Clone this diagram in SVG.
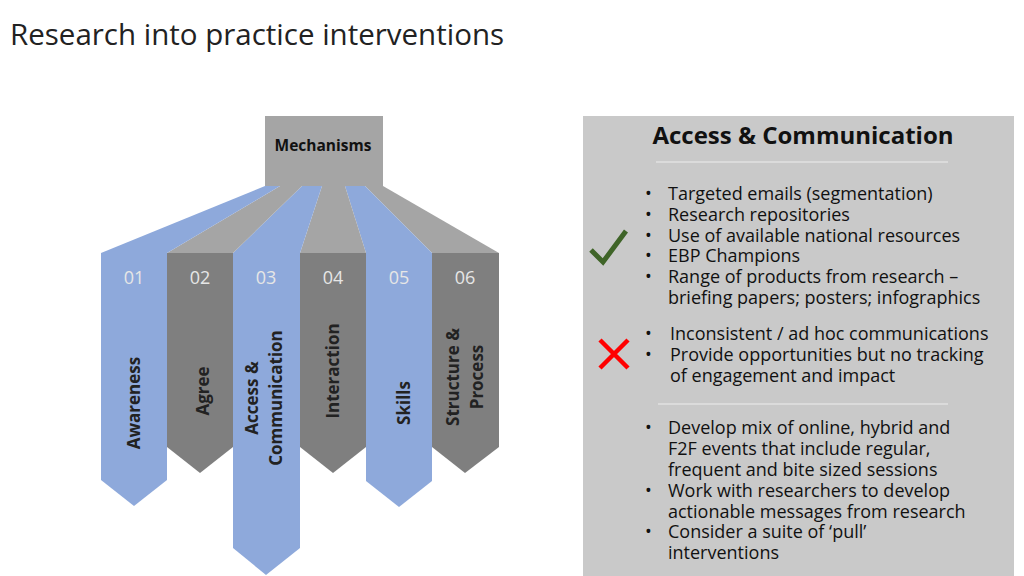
<svg xmlns="http://www.w3.org/2000/svg" width="1024" height="576" viewBox="0 0 1024 576">
<style>
.b{fill:#8EA9DB}.g{fill:#7F7F7F}.f{fill:#A5A5A5}
.n{font-family:"Open Sans",sans-serif;font-size:18px;fill:#E6E6E6;text-anchor:middle}
.v{font-family:"Open Sans",sans-serif;font-size:17px;font-weight:bold;fill:#222;text-anchor:middle}
.t{font-family:"Open Sans",sans-serif;font-size:18px;fill:#111}
</style>
<rect width="1024" height="576" fill="#fff"/>
<text x="10" y="45" font-family="Open Sans,sans-serif" font-size="29.5" fill="#222">Research into practice interventions</text>
<g id="fans">
<polygon class="f" points="365,186 383,186 499,253 432,253"/>
<polygon class="b" points="345,186 365,186 432,253 366,253"/>
<polygon class="f" points="322,186 345,186 366,253 300,253"/>
<polygon class="b" points="302,186 322,186 300,253 233,253"/>
<polygon class="f" points="280,186 302,186 233,253 167,253"/>
<polygon class="b" points="265,186 280,186 167,253 101,253"/>
</g>
<g id="mechanisms"><rect class="f" x="265" y="116" width="118" height="70"/><text x="323" y="151" font-family="Open Sans,sans-serif" font-size="15.5" font-weight="bold" text-anchor="middle" fill="#111">Mechanisms</text></g>
<g id="c01"><polygon class="b" points="101,253 167,253 167,480 134,506 101,480"/><text class="n" x="134" y="284">01</text><text class="v" transform="translate(140,403) rotate(-90)">Awareness</text></g>
<g id="c02"><polygon class="g" points="167,253 233,253 233,447 200,473 167,447"/><text class="n" x="200" y="284">02</text><text class="v" transform="translate(209,391) rotate(-90)">Agree</text></g>
<g id="c03"><polygon class="b" points="233,253 300,253 300,548 266,575 233,548"/><text class="n" x="266" y="284">03</text><text class="v" transform="translate(258,398) rotate(-90)">Access &amp;</text><text class="v" transform="translate(282,398) rotate(-90)">Communication</text></g>
<g id="c04"><polygon class="g" points="300,253 366,253 366,447 333,473 300,447"/><text class="n" x="333" y="284">04</text><text class="v" transform="translate(339,371) rotate(-90)">Interaction</text></g>
<g id="c05"><polygon class="b" points="366,253 432,253 432,481 399,507 366,481"/><text class="n" x="399" y="284">05</text><text class="v" transform="translate(410,403) rotate(-90)">Skills</text></g>
<g id="c06"><polygon class="g" points="432,253 499,253 499,447 465,473 432,447"/><text class="n" x="465" y="284">06</text><text class="v" transform="translate(459,377) rotate(-90)">Structure &amp;</text><text class="v" transform="translate(483,377) rotate(-90)">Process</text></g>
<g id="panel">
<rect x="583" y="116" width="431" height="460" fill="#C9C9C9"/>
<text x="803" y="144" font-family="Open Sans,sans-serif" font-size="24" font-weight="bold" text-anchor="middle" fill="#111">Access &amp; Communication</text>
<line x1="656" y1="162" x2="948" y2="162" stroke="#E0E0E0" stroke-width="1.5"/>
<line x1="658" y1="404" x2="948" y2="404" stroke="#E0E0E0" stroke-width="1.5"/>
<polyline points="591,250 603,262 626,231" fill="none" stroke="#3F6428" stroke-width="5"/>
<path d="M600,340 L628,368 M628,340 L600,368" stroke="#F00" stroke-width="4.5"/>
<g class="t">
<text x="645" y="200">•</text><text x="668" y="200">Targeted emails (segmentation)</text>
<text x="645" y="221">•</text><text x="668" y="221">Research repositories</text>
<text x="645" y="242">•</text><text x="668" y="242">Use of available national resources</text>
<text x="645" y="262">•</text><text x="668" y="262">EBP Champions</text>
<text x="645" y="283">•</text><text x="668" y="283">Range of products from research –</text>
<text x="668" y="304">briefing papers; posters; infographics</text>
<text x="645" y="340">•</text><text x="670" y="340">Inconsistent / ad hoc communications</text>
<text x="645" y="361">•</text><text x="670" y="361">Provide opportunities but no tracking</text>
<text x="670" y="382">of engagement and impact</text>
<text x="645" y="434">•</text><text x="668" y="434">Develop mix of online, hybrid and</text>
<text x="668" y="455">F2F events that include regular,</text>
<text x="668" y="476">frequent and bite sized sessions</text>
<text x="645" y="497">•</text><text x="668" y="497">Work with researchers to develop</text>
<text x="668" y="518">actionable messages from research</text>
<text x="645" y="538">•</text><text x="668" y="538">Consider a suite of ‘pull’</text>
<text x="668" y="559">interventions</text>
</g>
</g>
</svg>
